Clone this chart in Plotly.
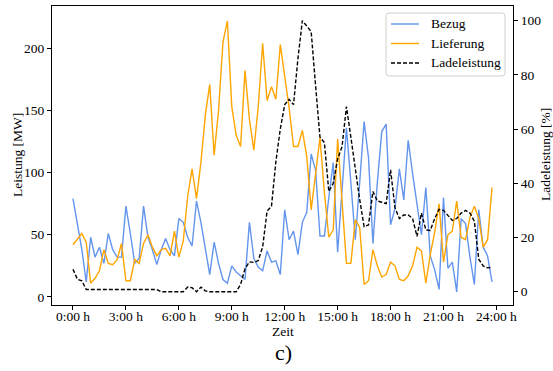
import plotly.graph_objects as go

# 15-minute time steps (hours)
time_h = [i * 0.25 for i in range(96)]

bezug = [79, 58, 38, 12, 48, 32, 40, 27, 51, 38, 32, 32, 73, 51, 27, 31,
         73, 48, 38, 26, 38, 47, 38, 33, 63, 60, 48, 41, 77, 60, 38, 18,
         44, 27, 14, 11, 25, 20, 17, 14, 60, 31, 24, 21, 37, 28, 29, 18,
         70, 46, 53, 34, 60, 68, 115, 102, 49, 49, 80, 108, 36, 85, 136, 92,
         46, 92, 141, 112, 43, 92, 133, 139, 58, 71, 103, 78, 126, 99, 75, 50,
         88, 33, 22, 6, 80, 23, 28, 4, 63, 59, 32, 10, 70, 40, 33, 12]

lieferung = [42, 47, 51, 44, 11, 15, 21, 38, 27, 26, 30, 43, 13, 13, 30, 27,
             43, 50, 40, 33, 38, 39, 33, 53, 32, 45, 81, 103, 79, 108, 146, 171,
             114, 150, 205, 222, 153, 130, 121, 182, 143, 118, 153, 204, 158, 169, 159, 203,
             178, 152, 121, 121, 134, 113, 70, 100, 128, 84, 48, 54, 127, 77, 27, 27,
             62, 56, 10, 13, 38, 25, 16, 18, 28, 25, 14, 13, 17, 25, 40, 37,
             11, 34, 52, 75, 28, 50, 53, 77, 48, 46, 64, 73, 63, 40, 46, 88]

ladeleistung = [8.3, 4.6, 4.0, 0.8, 0.8, 0.8, 0.8, 0.8, 0.8, 0.8, 0.8, 0.8, 0.8, 0.8, 0.8, 0.8,
                0.8, 0.8, 0.8, 0.8, 0, 0, 0, 0, 0, 0, 1.7, 1.5, 0, 1.7, 0.3, 0,
                0, 0, 0, 0, 0, 0, 2.7, 8.5, 11, 10.8, 11.5, 16.5, 29.7, 31.5, 48, 60,
                69, 71, 69, 86, 100, 98, 96, 76, 57, 55, 37, 40, 49, 53.5, 68.3, 57,
                45, 34, 24, 24.6, 37, 33.5, 33, 32.5, 45, 31, 27, 28.3, 28.3, 27, 20.4, 29,
                22.8, 22.6, 27, 30.4, 30, 28, 26.3, 27, 29, 30, 29, 26, 12, 9.5, 8.8, 9]

x_tickvals = [0, 3, 6, 9, 12, 15, 18, 21, 24]
x_ticktext = ["0:00 h", "3:00 h", "6:00 h", "9:00 h", "12:00 h", "15:00 h",
              "18:00 h", "21:00 h", "24:00 h"]
y1_ticks = [0, 50, 100, 150, 200]
y2_ticks = [0, 20, 40, 60, 80, 100]

series_names = ["Bezug", "Lieferung", "Ladeleistung"]
series_colors = ["#6495ED", "#FFA500", "black"]
series_dash = ["solid", "solid", "4px,2px"]

FONT = "Liberation Serif, Times New Roman, serif"
FS = 13.5
LW = 1.4

fig = go.Figure()
fig.add_trace(go.Scatter(x=time_h, y=bezug, mode="lines", name=series_names[0],
                         line=dict(color=series_colors[0], width=LW)))
fig.add_trace(go.Scatter(x=time_h, y=lieferung, mode="lines", name=series_names[1],
                         line=dict(color=series_colors[1], width=LW)))
fig.add_trace(go.Scatter(x=time_h, y=ladeleistung, mode="lines", name=series_names[2],
                         line=dict(color=series_colors[2], width=LW, dash=series_dash[2]),
                         yaxis="y2"))

W, H = 553, 371
L, R, T, B = 52, 40, 6, 66
pw, ph = W - L - R, H - T - B

def px_x(x):
    return (x - L) / pw

def px_y(y):
    return (H - B - y) / ph

# legend drawn manually (matplotlib-like compact layout)
lx0, lx1, ly0, ly1, rad = 386, 505, 13, 76, 3
path = (f"M {px_x(lx0 + rad)} {px_y(ly0)} L {px_x(lx1 - rad)} {px_y(ly0)} "
        f"Q {px_x(lx1)} {px_y(ly0)} {px_x(lx1)} {px_y(ly0 + rad)} "
        f"L {px_x(lx1)} {px_y(ly1 - rad)} Q {px_x(lx1)} {px_y(ly1)} {px_x(lx1 - rad)} {px_y(ly1)} "
        f"L {px_x(lx0 + rad)} {px_y(ly1)} Q {px_x(lx0)} {px_y(ly1)} {px_x(lx0)} {px_y(ly1 - rad)} "
        f"L {px_x(lx0)} {px_y(ly0 + rad)} Q {px_x(lx0)} {px_y(ly0)} {px_x(lx0 + rad)} {px_y(ly0)} Z")
shapes = [dict(type="path", xref="paper", yref="paper", path=path,
               fillcolor="rgba(255,255,255,0.8)", line=dict(color="#d0d0d0", width=1))]
annotations = []
entry_y = [24, 43.5, 63]
for name, col, dash, ey in zip(series_names, series_colors, series_dash, entry_y):
    shapes.append(dict(type="line", xref="paper", yref="paper",
                       x0=px_x(391), x1=px_x(419), y0=px_y(ey), y1=px_y(ey),
                       line=dict(color=col, width=LW, dash=dash)))
    annotations.append(dict(text=name, xref="paper", yref="paper", x=px_x(429), y=px_y(ey),
                            showarrow=False, font=dict(family=FONT, size=FS),
                            xanchor="left", yanchor="middle"))

annotations += [
    dict(text="Zeit", xref="paper", yref="paper", x=px_x(283), y=px_y(331),
         showarrow=False, font=dict(family=FONT, size=FS), xanchor="center", yanchor="middle"),
    dict(text="Leistung [MW]", xref="paper", yref="paper", x=px_x(17), y=px_y(155),
         showarrow=False, textangle=-90, font=dict(family=FONT, size=FS),
         xanchor="center", yanchor="middle"),
    dict(text="Ladeleistung [%]", xref="paper", yref="paper", x=px_x(545), y=px_y(155),
         showarrow=False, textangle=-90, font=dict(family=FONT, size=FS),
         xanchor="center", yanchor="middle"),
    dict(text="c)", xref="paper", yref="paper", x=px_x(283), y=px_y(352),
         showarrow=False, font=dict(family=FONT, size=22), xanchor="center", yanchor="middle"),
]

fig.update_layout(
    width=W, height=H,
    margin=dict(l=L, r=R, t=T, b=B, pad=0),
    paper_bgcolor="white", plot_bgcolor="white",
    font=dict(family=FONT, size=FS, color="black"),
    showlegend=False,
    xaxis=dict(range=[-1.19, 24.94], tickvals=x_tickvals, ticktext=x_ticktext,
               showline=True, linecolor="black", linewidth=1, mirror=True,
               ticks="outside", ticklen=4, tickcolor="black", showgrid=False,
               zeroline=False, tickfont=dict(family=FONT, size=FS),
               ticklabelstandoff=-5),
    yaxis=dict(range=[-6.5, 234], tickvals=y1_ticks,
               showline=True, linecolor="black", linewidth=1, mirror=True,
               ticks="outside", ticklen=4, tickcolor="black", showgrid=False,
               zeroline=False, tickfont=dict(family=FONT, size=FS)),
    yaxis2=dict(range=[-4.9, 105.4], tickvals=y2_ticks, overlaying="y", side="right",
                showline=True, linecolor="black", linewidth=1,
                ticks="outside", ticklen=4, tickcolor="black", showgrid=False,
                zeroline=False, tickfont=dict(family=FONT, size=FS)),
    shapes=shapes,
    annotations=annotations,
)

fig.write_html("out.html", config={"displayModeBar": False},
               post_script="document.body.style.margin='0';document.body.style.overflow='hidden';")
